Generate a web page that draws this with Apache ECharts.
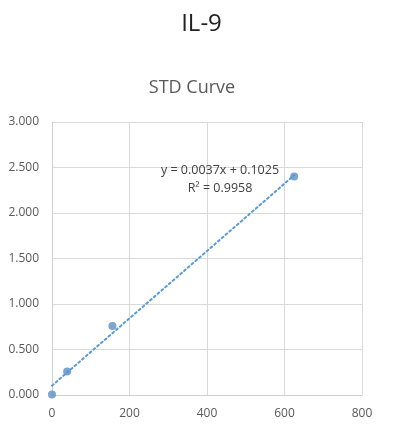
<!DOCTYPE html>
<html>
<head>
<meta charset="utf-8">
<script src="https://cdn.jsdelivr.net/npm/echarts@6/dist/echarts.min.js"></script>
<style>
  html, body { margin: 0; padding: 0; background: #fff; }
  #container { width: 403px; height: 438px; }
</style>
</head>
<body>
<div id="container"></div>
<script>
// standard points (concentration, OD)
var stdX = [0, 39, 156, 625];
var stdY = [0.005, 0.258, 0.758, 2.400];
// linear trendline ends
var trendX = [0, 625];
var trendY = [0.1025, 2.415];
var xTicks = [0, 200, 400, 600, 800];
var yTicks = [0, 0.5, 1, 1.5, 2, 2.5, 3];

var myChart = echarts.init(document.getElementById("container"));

var points = stdX.map(function (x, i) { return [x, stdY[i]]; });
var trend = trendX.map(function (x, i) { return [x, trendY[i]]; });

var option = {
    animation: false,
    title: [
        {
            text: 'IL-9',
            left: 'center',
            top: 7,
            textStyle: { color: '#222', fontSize: 24, fontWeight: 'normal', fontFamily: 'Open Sans' }
        }, {
            text: 'STD Curve',
            left: 187,
            top: 74,
            textAlign: 'center',
            textStyle: { color: '#595959', fontSize: 18, fontWeight: 'normal', fontFamily: 'Open Sans' }
        }, {
            text: 'y = 0.0037x + 0.1025\nR² = 0.9958',
            left: 215,
            top: 156,
            textAlign: 'center',
            textStyle: { color: '#404040', fontSize: 12.5, fontWeight: 'normal', fontFamily: 'Open Sans', lineHeight: 18 }
        }
    ],
    grid: {
        left: 52,
        right: 41,
        top: 122,
        bottom: 43
    },
    xAxis: {
        type: 'value',
        min: xTicks[0],
        max: xTicks[xTicks.length - 1],
        interval: 200,
        axisLine: { show: true, lineStyle: { color: '#d0d0d0' } },
        axisTick: { show: false },
        splitLine: { show: true, lineStyle: { color: '#d9d9d9' } },
        axisLabel: { color: '#595959', fontSize: 12, fontFamily: 'Open Sans', margin: 13 }
    },
    yAxis: {
        type: 'value',
        min: yTicks[0],
        max: yTicks[yTicks.length - 1],
        interval: 0.5,
        axisLine: { show: true, lineStyle: { color: '#d0d0d0' } },
        axisTick: { show: false },
        splitLine: { show: true, lineStyle: { color: '#d9d9d9' } },
        axisLabel: {
            color: '#595959', fontSize: 12, fontFamily: 'Open Sans', margin: 13,
            formatter: function (v) { return v.toFixed(3); }
        }
    },
    series: [
        {
            type: 'line',
            data: trend,
            symbol: 'none',
            z: 1,
            lineStyle: { color: '#5b9bd5', width: 2, type: [2, 3], cap: 'round' }
        }, {
            type: 'scatter',
            data: points,
            symbolSize: 8,
            z: 2,
            itemStyle: { color: '#5b8fc4' }
        }
    ]
};

myChart.setOption(option, true);
window.onresize = function () {
    myChart.resize();
};
</script>
</body>
</html>
